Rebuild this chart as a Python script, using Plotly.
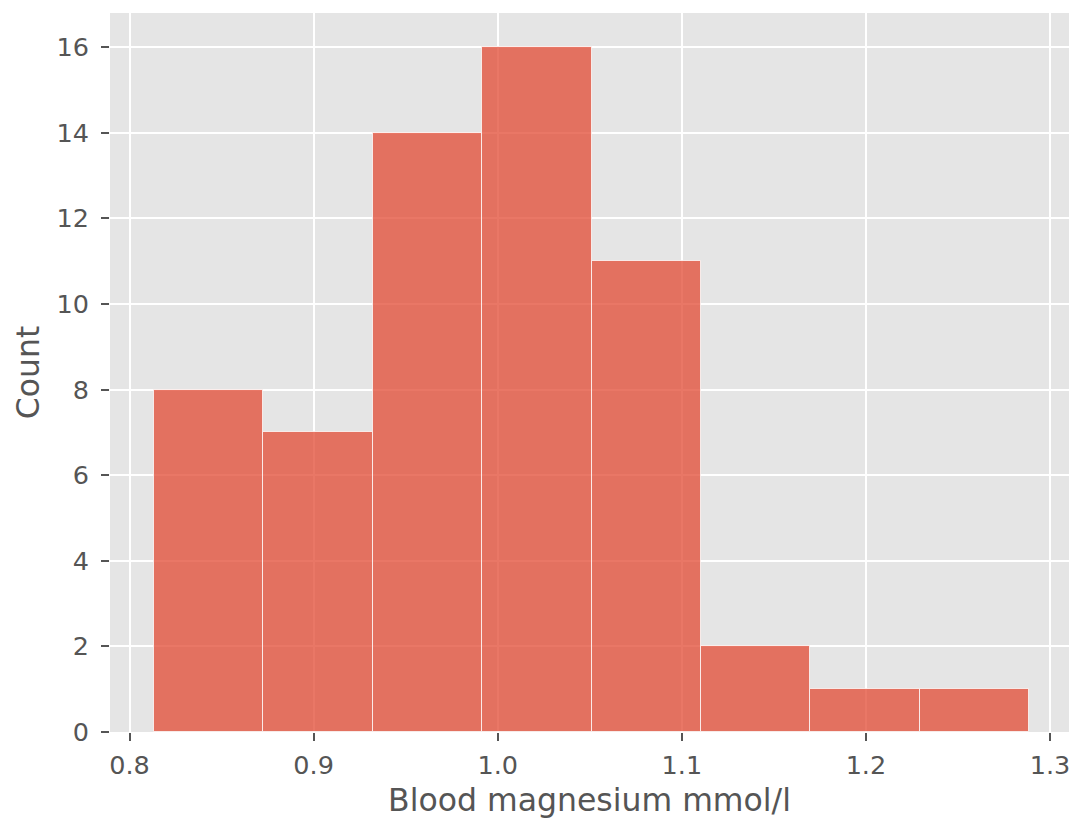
import plotly.graph_objects as go

# Histogram of blood magnesium (mmol/l): equal-width bins
bin_start = 0.8132
bin_width = 0.05944
counts = [8, 7, 14, 16, 11, 2, 1, 1]

x_ticks = [0.8, 0.9, 1.0, 1.1, 1.2, 1.3]
x_tick_text = ["0.8", "0.9", "1.0", "1.1", "1.2", "1.3"]
y_ticks = [0, 2, 4, 6, 8, 10, 12, 14, 16]

centers = [bin_start + bin_width * (i + 0.5) for i in range(len(counts))]

FONT = "DejaVu Sans"
GREY = "#555555"

fig = go.Figure(
    go.Bar(
        x=centers,
        y=counts,
        width=[bin_width] * len(counts),
        marker=dict(
            color="rgba(226,74,51,0.75)",
            line=dict(color="rgba(255,255,255,0.75)", width=1),
        ),
        hoverinfo="x+y",
    )
)

fig.update_layout(
    width=1069,
    height=819,
    margin=dict(l=110, r=0, t=13, b=87),
    paper_bgcolor="white",
    plot_bgcolor="#E5E5E5",
    showlegend=False,
    bargap=0,
    font=dict(family=FONT, color=GREY),
)

fig.update_xaxes(
    range=[0.7894, 1.3103],
    tickvals=x_ticks,
    ticktext=x_tick_text,
    tickfont=dict(size=25.5, color=GREY, family=FONT),
    ticklabeloverflow="allow",
    ticks="outside",
    ticklen=8,
    tickwidth=1.5,
    tickcolor=GREY,
    ticklabelstandoff=2,
    showgrid=True,
    gridcolor="white",
    gridwidth=1.6,
    zeroline=False,
    showline=False,
    automargin=False,
    title=dict(text="Blood magnesium mmol/l", font=dict(size=31.5, color=GREY, family=FONT), standoff=10),
)

fig.update_yaxes(
    range=[0, 16.8],
    tickvals=y_ticks,
    tickfont=dict(size=25.5, color=GREY, family=FONT),
    ticklabeloverflow="allow",
    ticks="outside",
    ticklen=8,
    tickwidth=1.5,
    tickcolor=GREY,
    ticklabelstandoff=7,
    showgrid=True,
    gridcolor="white",
    gridwidth=1.6,
    zeroline=False,
    showline=False,
    automargin=False,
    title=dict(text="Count", font=dict(size=31.5, color=GREY, family=FONT), standoff=7),
)

fig.write_html("out.html")
